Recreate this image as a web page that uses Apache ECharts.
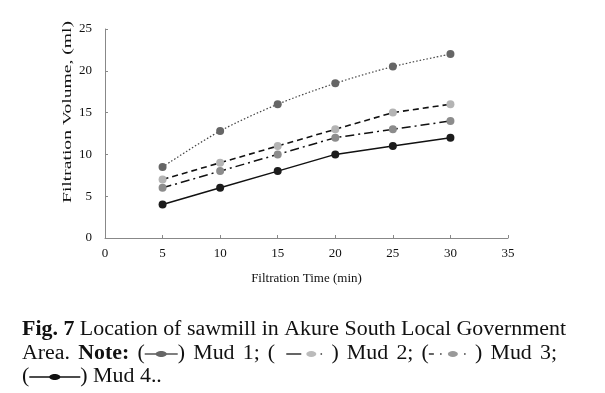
<!DOCTYPE html>
<html><head><meta charset="utf-8">
<script src="https://cdn.jsdelivr.net/npm/echarts@6/dist/echarts.min.js"></script>
<style>html,body{margin:0;padding:0;background:#fff}#c{width:605px;height:393px}</style>
</head><body><div id="c"></div>
<script>
const times = [5, 10, 15, 20, 25, 30];
const mud1 = [8.5, 12.8, 16, 18.5, 20.5, 22];
const mud2 = [7, 9, 11, 13, 15, 16];
const mud3 = [6, 8, 10, 12, 13, 14];
const mud4 = [4, 6, 8, 10, 11, 12];
const xTitle = 'Filtration Time (min)';
const yTitle = 'Filtration Volume, (ml)';
const captionLine1 = [{t:'Fig. 7', b:true}, {t:' Location of sawmill in Akure South Local Government'}];
const captionLine2 = [{t:'Area. '}, {t:'Note:', b:true}, {t:' ('}, {s:1}, {t:') Mud 1; ( '}, {s:2}, {t:' ) Mud 2; ('}, {s:3}, {t:' ) Mud 3;'}];
const captionLine3 = [{t:'('}, {s:4}, {t:') Mud 4..'}];

const serif = '"Liberation Serif", "Times New Roman", serif';
const chart = echarts.init(document.getElementById('c'));
const pairs = v => times.map((t, i) => [t, v[i]]);

const cv = document.createElement('canvas').getContext('2d');
const capSize = 20;
let capScale = 1;
function measure(txt, bold, size) { cv.font = (bold ? 'bold ' : '') + size + 'px ' + serif; return cv.measureText(txt).width * (size === capSize ? capScale : 1); }
capScale = 544 / captionLine1.reduce((a, sg) => a + measure(sg.t, sg.b, capSize), 0);

const symW = {1: 33, 2: 40, 3: 38, 4: 51};
function symbol(k, x, y) {
  const els = [];
  const w = symW[k];
  if (k === 1 || k === 4) {
    els.push({type:'line', shape:{x1:x, y1:y, x2:x+w, y2:y}, style:{stroke: k===1?'#555':'#111', lineWidth:1.3}});
    els.push({type:'ellipse', shape:{cx:x+w/2, cy:y, rx:5.5, ry:3}, style:{fill: k===1?'#666':'#111'}});
  } else if (k === 2) {
    els.push({type:'line', shape:{x1:x+3, y1:y, x2:x+18, y2:y}, style:{stroke:'#111', lineWidth:1.3}});
    els.push({type:'ellipse', shape:{cx:x+28, cy:y, rx:5, ry:3}, style:{fill:'#bbb'}});
    els.push({type:'circle', shape:{cx:x+38, cy:y, r:0.9}, style:{fill:'#555'}});
  } else {
    els.push({type:'line', shape:{x1:x, y1:y, x2:x+5, y2:y}, style:{stroke:'#111', lineWidth:1.3}});
    els.push({type:'circle', shape:{cx:x+12, cy:y, r:0.9}, style:{fill:'#555'}});
    els.push({type:'ellipse', shape:{cx:x+24, cy:y, rx:5, ry:3}, style:{fill:'#999'}});
    els.push({type:'circle', shape:{cx:x+36, cy:y, r:0.9}, style:{fill:'#555'}});
  }
  return els;
}
function textEl(t, b, x, y) {
  return {type:'text', x:x, y:y, scaleX:capScale, style:{text:t, font:(b?'bold ':'') + capSize + 'px ' + serif, fill:'#111', verticalAlign:'middle', align:'left'}};
}
// flow layout; if justifyTo is given, spread extra width evenly over the spaces
function layoutLine(segs, x0, y, justifyTo) {
  const pieces = [];
  segs.forEach(sg => {
    if (sg.s) pieces.push({s:sg.s, w:symW[sg.s]});
    else sg.t.split(/(?<= )/).forEach(p => pieces.push({t:p, b:sg.b, w:measure(p, sg.b, capSize)}));
  });
  const total = pieces.reduce((a, p) => a + p.w, 0);
  const nSp = pieces.filter(p => p.t && p.t.endsWith(' ')).length;
  const extra = justifyTo && nSp ? Math.max(0, (justifyTo - x0 - total) / nSp) : 0;
  const els = [];
  let x = x0;
  pieces.forEach(p => {
    if (p.s) els.push(...symbol(p.s, x, y));
    else els.push(textEl(p.t, p.b, x, y));
    x += p.w + (p.t && p.t.endsWith(' ') ? extra : 0);
  });
  return els;
}

const yNameLen = measure(yTitle, false, 13);
const graphics = [
  ...layoutLine(captionLine1, 22, 330),
  ...layoutLine(captionLine2, 22, 354, 557),
  ...layoutLine(captionLine3, 22, 377),
  {type:'text', x:68, y:112, rotation:Math.PI/2, scaleX:182/yNameLen,
   style:{text:yTitle, font:'13px ' + serif, fill:'#111', align:'center', verticalAlign:'middle'}}
];

const axisCommon = {
  axisLine:{lineStyle:{color:'#888', width:1}},
  axisTick:{inside:true, length:3, lineStyle:{color:'#888'}},
  splitLine:{show:false},
  axisLabel:{color:'#111', fontFamily:serif, fontSize:13}
};

chart.setOption({
  animation:false,
  grid:{left:105, right:97, top:29, bottom:155, containLabel:false},
  xAxis:Object.assign({type:'value', min:0, max:35, interval:5, name:xTitle, nameLocation:'middle', nameGap:34,
    nameTextStyle:{color:'#111', fontFamily:serif, fontSize:13}}, axisCommon,
    {axisLabel:Object.assign({}, axisCommon.axisLabel, {margin:9})}),
  yAxis:Object.assign({type:'value', min:0, max:25, interval:5}, axisCommon,
    {axisLabel:Object.assign({}, axisCommon.axisLabel, {margin:13})}),
  series:[
    {name:'Mud 1', type:'line', data:pairs(mud1), smooth:0.3, symbol:'circle', symbolSize:8,
     itemStyle:{color:'#666'}, lineStyle:{color:'#444', width:1.2, type:[1.5,2]}},
    {name:'Mud 2', type:'line', data:pairs(mud2), symbol:'circle', symbolSize:8,
     itemStyle:{color:'#b4b4b4'}, lineStyle:{color:'#111', width:1.6, type:[6,4]}},
    {name:'Mud 3', type:'line', data:pairs(mud3), symbol:'circle', symbolSize:8,
     itemStyle:{color:'#8c8c8c'}, lineStyle:{color:'#111', width:1.5, type:[9,4,2,4]}},
    {name:'Mud 4', type:'line', data:pairs(mud4), symbol:'circle', symbolSize:8,
     itemStyle:{color:'#1c1c1c'}, lineStyle:{color:'#111', width:1.5}}
  ],
  graphic:graphics
});
</script></body></html>
